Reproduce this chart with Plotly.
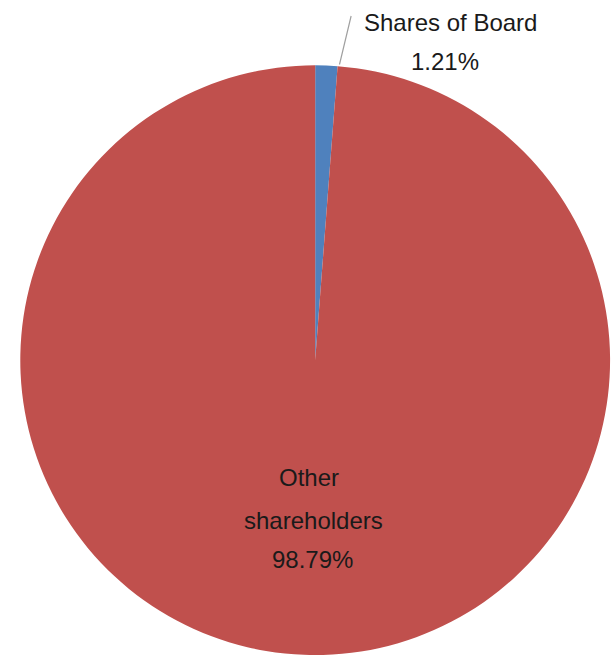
import plotly.graph_objects as go

# Shareholding split
labels = ["Shares of Board", "Other shareholders"]
values = [1.21, 98.79]
colors = ["#4F81BD", "#C0504D"]

total = sum(values)
pcts = [v / total * 100 for v in values]

fig = go.Figure(
    go.Pie(
        labels=labels,
        values=values,
        marker=dict(colors=colors, line=dict(color="#C0504D", width=0)),
        sort=False,
        direction="clockwise",
        rotation=0,
        textinfo="none",
        hoverinfo="label+percent",
        domain=dict(x=[0.033, 0.992], y=[0.025, 0.903]),
        showlegend=False,
    )
)

txt_font = dict(family="Liberation Sans, Arial", size=24, color="#1a1a1a")


def label(x, y, text):
    fig.add_annotation(
        x=x, y=y, xref="paper", yref="paper", text=text, showarrow=False,
        xanchor="center", yanchor="middle", font=txt_font,
    )


# Outside label for the small slice, with leader line
fig.add_annotation(
    x=0.552, y=0.904, xref="paper", yref="paper",
    text="", showarrow=True, arrowhead=0, arrowwidth=1.2, arrowcolor="#a0a0a0",
    ax=12, ay=-50,
)
label(0.732, 0.967, labels[0])
label(0.724, 0.908, f"{pcts[0]:.2f}%")

# Inside label for the large slice
label(0.503, 0.290, "Other")
label(0.509, 0.226, "shareholders")
label(0.508, 0.1667, f"{pcts[1]:.2f}%")

fig.update_layout(
    width=615, height=672,
    margin=dict(l=0, r=0, t=0, b=0),
    paper_bgcolor="white",
    plot_bgcolor="white",
)

fig.write_html("out.html")
